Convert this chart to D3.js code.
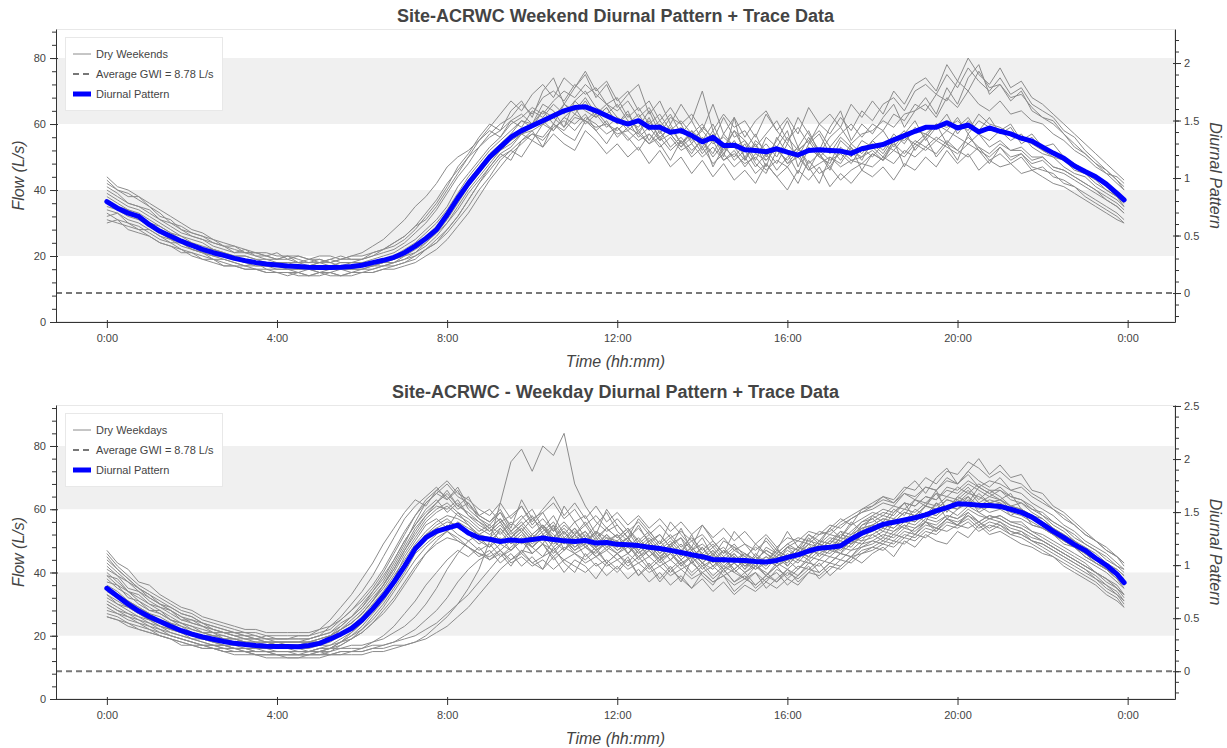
<!DOCTYPE html>
<html>
<head>
<meta charset="utf-8">
<script src="https://cdn.jsdelivr.net/npm/d3@7"></script>
<style>
  body { margin: 0; background: #fff; }
  text { font-family: "Liberation Sans", Arial, Helvetica, sans-serif; }
</style>
</head>
<body>
<svg id="chart" width="1227" height="748"></svg>
<script>
// ---------------- DATA ----------------
const sampleMinutes = d3.range(0, 1440, 15).concat([1435]); // 15-min samples, last at 23:55
const xTickValues = [0, 240, 480, 720, 960, 1200, 1440];
const xTickLabels = ["0:00", "4:00", "8:00", "12:00", "16:00", "20:00", "0:00"];
const averageGWI = 8.78;
const bandRanges = [[20, 40], [60, 80]];

const weekendTitle = "Site-ACRWC Weekend Diurnal Pattern + Trace Data";
const weekdayTitle = "Site-ACRWC - Weekday Diurnal Pattern + Trace Data";
const weekendLegend = ["Dry Weekends", "Average GWI = 8.78 L/s", "Diurnal Pattern"];
const weekdayLegend = ["Dry Weekdays", "Average GWI = 8.78 L/s", "Diurnal Pattern"];

const weekendPattern = [36.5,34.5,33,32,29.5,27.5,26,24.5,23.2,22,21,20.2,
19.3,18.6,18,17.6,17.3,17,16.8,16.6,16.5,16.5,16.6,16.8,
17.2,18,18.7,19.6,21,23,25.3,28,32.5,37.5,42,46,
50,53,56,58,59.5,61,62.5,64,65,65.2,64,62.5,
61,60,61,59,59,57.5,58,56.5,54.6,56,53.5,53.6,
52.2,52,51.6,52.5,51.5,50.6,52,52.2,52,51.8,51.1,52.5,
53.2,53.8,55.2,56.5,57.8,59,59,60.4,58.8,59.7,57.6,58.8,
57.8,57,55.7,54.8,53,51.2,49.6,47.3,45.6,44,41.8,39,37];

const weekdayPattern = [35,32.5,30,27.8,26,24.5,23,21.6,20.5,19.6,18.9,18.2,
17.6,17.2,16.9,16.7,16.6,16.6,16.5,16.9,17.6,19,20.5,22.3,
25,28.5,32.5,37,42,47.5,51,53,54,55,52.5,51,
50.5,49.8,50.3,50,50.4,50.9,50.4,50,49.8,50.1,49.3,49.5,
48.9,48.8,48.5,48,47.6,47,46.3,45.6,45,44.1,44,43.9,
43.8,43.5,43.3,43.8,44.8,45.6,46.8,47.7,48,48.4,50.6,52.4,
53.8,55.2,55.9,56.6,57.3,58.2,59.5,60.5,61.7,61.6,61.3,61.2,
60.9,60,59,57.5,55.3,53,51,48.8,47,44.5,42.3,39.5,36.8];

const weekendTraces = [
[42,40,39,37,35,33,30,29,27,26,24,23, 22,21,21,20,19,20,19,18,19,18,19,19, 19,20,21,22,24,27,30,34,39,44,48,53, 57,60,62,66,63,68,70,67,72,69,71,66, 68,62,65,60,63,58,61,57,60,55,62,56, 58,53,57,61,55,59,54,60,57,62,58,64, 61,66,68,64,70,72,69,75,71,77,73,70, 74,69,71,66,64,62,58,56,52,49,46,43,41],
[33,31,30,29,27,25,24,22,21,20,19,18, 17,17,16,16,15,15,15,14,15,15,14,15, 15,16,17,17,18,20,22,25,28,32,37,42, 46,50,52,55,57,56,60,58,62,61,59,60, 57,58,55,57,53,56,52,54,50,53,49,51, 48,50,46,49,47,51,46,48,50,47,49,48, 51,49,52,50,54,52,55,53,51,54,52,50, 53,50,51,48,49,46,45,43,41,39,37,35,33],
[38,36,34,33,31,29,27,26,24,23,22,21, 20,20,19,18,18,18,17,17,18,17,18,18, 19,21,22,24,26,29,33,37,42,46,50,53, 56,58,61,59,64,62,66,63,67,64,62,65, 60,63,58,61,56,59,54,57,53,58,51,55, 50,54,49,53,48,52,55,50,53,49,54,51, 55,52,57,54,59,56,60,58,62,57,61,59, 58,60,55,57,53,54,50,48,46,44,41,38,36],
[44,41,40,38,36,34,32,30,28,27,25,24, 23,22,21,21,20,20,20,19,20,20,19,20, 20,21,22,24,26,29,31,35,40,45,50,55, 59,63,67,64,69,72,68,74,71,76,70,73, 67,70,64,67,61,65,60,63,58,66,57,62, 56,61,64,58,62,57,65,60,63,59,66,62, 67,63,70,66,72,74,70,78,73,80,75,72, 77,71,73,68,66,63,60,57,54,51,48,45,43],
[31,30,29,28,26,24,23,22,20,19,18,17, 17,16,16,15,15,14,15,14,14,15,14,15, 15,15,16,16,17,18,20,22,25,29,33,38, 43,47,51,54,57,55,59,61,58,62,60,57, 59,55,58,54,56,52,55,50,53,48,51,47, 50,45,48,44,47,42,49,45,47,43,46,48, 47,50,48,52,50,53,51,55,52,50,53,49, 51,48,50,46,47,44,43,41,39,37,35,33,31],
[40,38,36,35,33,31,29,27,26,25,23,22, 21,21,20,19,19,19,18,18,18,19,18,18, 18,19,20,21,23,25,28,31,35,41,45,49, 53,56,60,62,65,63,67,70,68,72,69,66, 64,67,62,65,59,63,57,61,55,60,53,58, 52,57,50,55,61,53,58,51,56,59,54,57, 58,61,59,63,64,66,62,68,65,70,66,64, 67,63,64,61,60,57,55,52,50,47,45,42,40],
[34,33,31,30,28,26,25,23,22,21,20,19, 18,17,17,17,16,16,16,16,15,16,16,16, 16,17,18,19,20,22,24,27,30,35,40,44, 48,52,55,57,59,61,58,62,60,63,58,61, 56,59,57,54,58,53,56,52,55,50,54,49, 52,47,51,46,50,53,48,51,47,52,49,50, 52,49,54,51,55,53,56,54,52,56,53,51, 54,52,52,49,50,47,46,44,42,40,38,36,34],
[36,35,33,31,30,27,26,24,23,21,21,20, 19,18,18,17,17,17,16,17,16,17,17,16, 17,17,18,19,21,23,26,29,33,38,43,47, 51,54,57,61,59,64,60,66,63,67,62,65, 60,64,57,62,55,60,54,58,52,57,50,62, 49,54,47,56,51,45,53,50,48,55,52,50, 54,51,56,55,58,57,60,59,61,58,63,60, 59,57,56,54,52,51,49,47,45,43,40,38,36],
[39,37,35,34,32,30,28,26,25,24,22,21, 20,20,19,19,18,18,18,17,18,18,17,18, 18,18,19,20,22,24,27,30,34,39,44,48, 52,55,58,61,60,64,62,66,64,68,63,66, 62,60,63,58,61,57,59,55,58,54,56,53, 55,51,54,50,56,52,55,58,53,57,60,56, 60,58,63,61,66,64,69,67,73,70,76,71, 72,68,69,65,62,60,57,54,51,48,46,43,40],
[35,34,32,31,29,27,25,24,22,21,20,20, 19,18,17,17,17,16,16,16,16,16,16,16, 16,17,17,18,20,21,24,27,31,36,41,45, 49,52,54,57,58,60,62,59,63,61,64,60, 58,61,56,59,55,57,53,56,51,55,49,52, 47,51,49,53,48,50,46,52,49,51,48,53, 50,54,52,56,54,57,55,58,56,54,57,53, 55,52,53,50,50,47,46,44,42,40,37,35,33],
[41,39,36,35,34,31,30,28,26,25,24,23, 21,22,20,20,19,20,18,19,19,18,19,20, 21,23,25,28,31,35,38,42,47,50,52,55, 58,56,61,63,60,66,64,59,67,70,65,63, 66,61,59,64,57,62,60,54,59,56,52,58, 55,49,56,53,58,47,54,57,51,56,53,49, 55,58,53,57,61,55,59,63,57,61,58,62, 57,59,54,56,52,50,49,46,45,42,40,38,35],
[32,33,30,28,28,26,24,24,22,21,19,19, 18,17,18,16,16,16,15,16,15,15,16,15, 16,16,17,18,19,21,23,26,30,34,39,43, 47,51,49,55,58,53,60,57,55,61,58,54, 59,56,52,57,54,49,55,51,56,47,53,50, 54,48,45,52,49,53,47,42,50,48,53,46, 51,49,55,47,53,56,50,54,49,57,52,48, 53,49,51,47,46,45,42,41,38,36,34,32,30],
[43,40,38,38,35,32,31,28,27,26,25,23, 23,21,21,20,21,19,20,19,18,19,20,19, 19,20,22,23,25,28,32,36,41,47,51,56, 60,58,64,67,62,70,74,66,71,75,68,72, 65,69,72,63,67,60,66,61,70,58,63,59, 61,56,63,58,54,62,57,52,59,64,55,60, 57,62,66,59,64,68,63,71,66,74,78,69, 72,67,70,64,62,61,57,53,51,48,45,44,42],
[37,35,34,32,30,29,27,25,24,22,22,21, 19,19,18,18,17,17,17,16,16,17,16,17, 17,17,18,18,19,20,22,24,28,32,37,42, 47,51,53,57,55,60,58,62,65,60,63,59, 62,58,61,55,60,57,53,58,55,51,57,53, 49,55,52,48,54,50,56,51,46,53,50,55, 53,50,55,58,52,56,60,54,59,62,57,55, 58,55,57,53,51,50,47,45,44,41,39,37,35],
[30,31,28,27,26,24,23,21,21,19,19,17, 17,16,16,15,15,15,14,14,15,14,14,14, 15,15,16,17,18,19,22,24,27,31,35,40, 44,49,52,50,55,53,57,54,52,58,55,51, 54,50,53,48,52,47,50,45,49,44,48,43, 46,42,48,44,40,46,43,47,41,45,42,46, 44,47,43,48,46,50,47,52,48,51,46,49, 47,48,45,46,44,42,41,39,37,35,33,31,30]
];

const weekdayTraces = [
[38,35,33,30,28,27,25,23,22,21,20,19, 19,18,18,17,18,17,17,18,18,20,22,24, 27,31,36,42,48,54,58,61,60,63,58,55, 53,56,51,54,50,55,52,49,53,50,48,52, 49,51,47,50,46,49,45,48,44,47,43,46, 42,45,43,47,45,48,46,50,49,52,51,55, 56,58,57,60,59,62,61,64,63,66,62,64, 63,61,60,58,56,54,52,50,47,45,43,40,38],
[30,28,26,25,23,22,20,19,18,17,16,16, 15,15,14,14,14,14,14,15,15,16,17,19, 21,24,28,32,37,42,46,49,51,50,48,46, 45,47,44,46,43,45,47,44,46,43,45,42, 44,41,43,40,42,39,41,38,40,37,39,36, 38,36,39,37,40,38,41,40,43,42,45,46, 48,47,50,49,52,51,54,53,55,54,56,53, 55,52,53,50,49,47,45,43,41,39,36,34,31],
[44,41,38,35,33,31,29,27,26,24,23,22, 21,20,20,19,19,19,19,19,20,21,24,26, 29,33,37,43,49,56,62,65,68,64,62,58, 60,56,58,61,55,59,62,57,60,55,58,54, 57,53,56,52,55,51,53,50,52,48,51,47, 49,47,50,46,49,51,50,53,52,55,57,59, 60,62,61,65,63,67,66,70,68,72,69,67, 70,66,67,64,62,60,57,55,52,50,47,45,43],
[32,30,28,26,25,23,22,21,20,19,18,17, 17,16,16,16,15,15,15,15,15,15,16,16, 16,17,17,18,19,20,22,24,27,30,33,37, 41,45,47,50,48,52,49,51,48,50,47,49, 46,48,45,47,44,46,43,45,42,44,41,43, 40,42,39,43,41,44,43,46,45,48,47,50, 51,53,52,55,54,57,56,58,57,60,58,57, 58,56,56,53,52,50,48,46,44,42,40,37,35],
[34,32,30,28,26,24,23,22,21,20,19,18, 18,17,17,16,16,16,15,15,15,14,14,14, 14,15,15,16,17,18,20,23,26,30,35,41, 50,62,75,79,72,80,77,84,68,61,56,53, 55,51,54,50,52,48,51,47,49,46,48,44, 46,43,45,42,44,46,45,48,47,50,49,52, 53,55,54,57,56,59,58,61,60,62,61,59, 60,58,57,55,54,52,50,48,46,44,41,39,37],
[40,37,34,32,30,28,26,24,23,22,21,20, 19,19,18,18,18,18,18,19,20,23,26,30, 34,39,45,51,57,61,64,67,63,66,60,57, 54,57,52,55,51,54,50,53,49,52,48,51, 47,50,46,49,45,48,44,47,43,46,42,45, 41,44,42,46,44,47,45,49,48,51,50,54, 55,57,56,59,58,61,60,63,62,65,64,62, 63,61,60,58,56,53,51,49,46,44,42,39,37],
[28,27,25,24,22,21,20,19,18,17,17,16, 16,15,15,15,14,14,14,14,15,16,18,20, 23,27,31,36,42,47,51,54,56,55,53,50, 48,51,47,50,46,49,45,48,46,44,47,43, 46,42,45,41,44,40,43,39,42,38,41,37, 40,36,39,42,38,41,44,40,43,46,45,49, 50,52,51,54,53,56,55,58,57,59,56,58, 57,55,54,52,50,48,46,44,42,40,37,35,33],
[42,39,37,34,32,30,28,26,25,24,22,21, 20,20,19,19,18,18,18,18,19,20,22,25, 28,32,36,41,47,52,57,60,62,59,57,54, 52,55,51,54,50,53,56,51,54,50,53,49, 52,48,51,47,50,46,49,45,48,44,47,43, 46,44,47,45,48,50,49,52,53,56,58,60, 62,64,63,67,66,70,68,72,71,75,73,70, 72,69,68,65,63,60,58,55,52,50,47,45,42],
[36,34,31,29,27,25,24,22,21,20,19,19, 18,18,17,17,17,17,17,17,18,19,21,23, 26,30,34,39,44,49,53,56,58,57,55,52, 50,53,49,52,48,51,54,49,52,48,51,47, 50,46,49,45,48,44,47,43,46,42,45,41, 44,42,45,43,46,44,48,47,50,49,52,54, 55,57,56,59,58,61,60,63,62,64,61,63, 62,60,59,57,55,53,51,49,46,44,42,39,36],
[46,42,39,36,34,32,30,28,27,25,24,23, 22,21,21,20,20,20,20,20,21,22,25,28, 31,35,40,46,52,58,63,66,69,65,63,60, 58,62,57,61,56,60,64,58,62,57,61,56, 59,55,58,54,57,53,56,52,55,51,54,50, 53,49,52,48,51,50,53,52,55,54,57,59, 61,63,62,65,64,67,66,69,68,71,67,69, 68,66,65,62,60,58,55,53,50,48,46,43,41],
[31,29,27,26,24,23,21,20,19,18,17,17, 16,16,15,15,15,15,15,15,16,17,19,21, 24,28,32,37,43,48,52,54,53,51,48,46, 44,47,43,45,42,44,41,44,42,40,43,39, 42,38,41,37,40,36,39,35,38,34,37,33, 36,34,37,35,38,36,40,39,42,41,44,47, 48,50,49,52,51,54,53,56,55,57,54,56, 55,53,52,50,49,47,45,43,41,38,36,33,30],
[33,31,29,27,25,24,22,21,20,19,18,18, 17,17,16,16,16,16,16,15,16,16,16,17, 17,18,19,21,23,26,30,35,41,46,50,52, 51,54,50,53,49,52,48,51,47,50,52,48, 50,46,49,45,48,44,47,43,46,42,45,41, 44,41,43,45,42,46,44,47,46,49,48,52, 53,55,54,57,56,59,58,61,60,63,60,62, 61,59,58,56,54,52,50,48,45,43,41,38,36],
[39,36,34,31,29,27,25,24,22,21,20,20, 19,18,18,18,17,17,17,18,18,19,22,24, 27,31,35,40,46,51,56,59,61,58,56,53, 55,52,56,53,57,54,51,55,52,56,51,54, 51,54,50,53,49,52,48,51,47,50,46,49, 45,48,46,44,47,45,49,48,51,50,53,56, 57,59,58,62,61,64,63,66,65,68,66,64, 66,63,62,60,58,55,53,50,48,46,43,41,39],
[27,26,24,23,22,20,19,18,17,17,16,15, 15,15,14,14,14,13,13,14,14,15,17,19, 22,25,29,34,39,44,48,51,53,50,48,45, 47,43,46,42,45,41,48,43,40,46,42,44, 41,45,39,43,38,42,37,44,39,36,41,37, 39,35,38,40,36,39,42,38,41,44,43,46, 47,49,48,51,50,53,52,55,54,56,53,55, 54,52,51,49,47,45,43,41,39,37,34,32,29],
[29,27,26,24,23,21,20,19,18,17,17,16, 16,15,15,15,14,14,14,14,14,14,15,15, 15,16,16,17,17,18,19,21,23,26,29,33, 37,41,44,47,46,49,47,50,46,48,45,47, 44,46,43,45,42,44,41,43,40,42,39,41, 38,40,37,41,39,42,41,44,43,46,45,48, 49,51,50,53,52,55,54,57,56,58,55,57, 56,54,53,51,50,48,46,44,42,40,38,35,33],
[45,41,38,35,32,30,28,26,24,23,22,21, 20,19,19,18,18,18,18,18,19,20,23,26, 29,34,38,44,50,55,59,62,65,61,59,56, 54,57,53,56,52,55,51,54,50,53,49,52, 48,51,47,50,46,49,45,48,44,47,43,46, 42,45,43,47,45,48,47,50,49,53,52,56, 58,60,59,62,61,64,63,67,66,69,67,65, 67,64,63,61,58,56,54,51,49,47,44,42,40],
[41,39,35,34,31,29,28,25,25,23,22,21, 21,20,19,20,19,19,20,20,22,25,29,33, 38,43,49,54,59,63,61,66,64,60,62,57, 55,59,53,57,60,54,58,52,56,51,55,59, 53,50,55,49,52,48,54,47,51,45,50,48, 44,49,46,43,48,45,51,47,50,53,49,55, 57,54,59,62,57,61,65,60,64,67,63,66, 64,61,62,59,57,54,52,49,48,45,42,41,39],
[26,25,24,22,21,20,19,17,17,16,16,15, 14,14,14,13,13,13,13,13,13,14,14,15, 16,18,20,23,27,31,36,40,44,47,45,48, 44,46,42,47,43,41,45,40,44,42,38,43, 40,44,39,42,37,41,38,35,40,37,39,34, 37,40,35,38,41,37,40,43,39,42,45,43, 46,48,45,50,48,52,50,49,53,51,55,52, 53,51,49,48,46,45,42,40,38,36,33,31,29],
[37,36,32,31,28,28,25,24,23,21,21,19, 19,18,17,18,17,16,17,17,17,18,20,22, 25,29,33,38,45,50,55,57,54,59,55,51, 48,54,50,46,52,49,55,47,51,53,48,50, 52,46,50,47,44,49,51,44,48,43,47,45, 41,46,43,48,42,46,49,45,48,46,51,50, 54,51,56,54,58,56,62,57,60,64,59,61, 62,58,60,55,54,52,49,48,45,43,41,38,35],
[43,40,37,35,33,30,29,27,26,24,23,22, 21,21,20,19,19,19,19,19,20,21,23,26, 30,34,39,44,50,55,60,63,59,62,58,56, 53,56,51,55,58,52,55,50,54,49,53,51, 50,53,48,51,47,50,46,52,45,48,44,47, 45,43,48,46,49,47,52,50,54,57,55,60, 61,64,62,66,69,65,70,73,68,72,76,71, 74,70,71,66,65,61,59,56,53,50,48,45,43],
[33,30,29,27,25,23,22,21,19,19,18,17, 16,16,16,15,15,15,15,15,16,16,18,20, 22,26,30,35,40,46,49,52,55,52,50,47, 49,45,48,51,46,49,44,47,50,45,48,43, 46,43,47,42,45,41,44,40,43,39,42,40, 38,42,40,37,41,39,43,42,45,44,47,48, 50,49,52,51,54,56,53,57,55,58,56,54, 56,53,52,50,48,46,44,42,40,38,35,33,31],
[30,28,27,25,24,22,21,20,19,18,17,17, 16,16,15,15,15,15,14,14,14,14,15,15, 15,16,17,18,20,22,25,28,32,37,41,44, 46,49,47,51,48,45,50,47,52,48,46,50, 47,49,45,48,44,47,42,46,43,41,45,40, 43,41,44,42,45,43,47,46,48,47,50,49, 52,50,53,55,52,56,54,57,55,59,56,58, 57,55,54,52,50,48,46,44,42,40,38,36,33],
[39,38,34,33,30,29,27,25,24,23,21,21, 20,19,19,18,18,18,18,18,19,20,22,24, 27,31,36,41,47,53,58,62,66,61,64,58, 56,60,54,63,57,59,53,61,56,58,52,60, 55,51,57,53,49,56,52,48,55,50,46,53, 49,45,51,47,53,48,52,49,54,51,56,53, 58,56,60,58,63,61,66,59,64,62,67,65, 63,65,60,58,57,54,51,50,47,44,42,40,37],
[35,33,31,29,27,26,24,23,21,20,20,19, 18,18,17,17,17,16,16,16,17,17,18,19, 21,24,27,31,36,41,46,50,53,56,54,52, 54,50,53,49,52,55,50,53,48,51,47,50, 48,51,46,49,45,48,44,47,43,46,41,45, 42,44,41,45,43,47,45,49,47,51,50,53, 55,53,57,56,60,58,62,60,63,61,65,62, 63,60,59,57,55,53,50,48,46,43,41,38,36],
[26,25,23,22,21,20,19,18,17,16,16,15, 15,15,14,14,14,14,14,14,15,16,18,21, 24,28,33,38,43,48,52,55,57,54,52,49, 51,47,50,53,48,51,46,50,47,49,45,48, 46,49,44,47,43,46,42,45,41,44,40,43, 40,43,39,42,44,41,45,44,47,46,49,51, 52,54,53,56,55,58,57,60,58,61,59,57, 58,56,55,53,51,49,47,45,43,40,38,35,32],
[47,43,41,37,36,33,31,29,28,26,25,24, 23,22,22,21,21,21,21,21,22,23,25,28, 32,36,41,47,53,58,62,65,63,67,61,58, 56,59,55,58,54,57,53,56,52,55,50,54, 51,54,49,52,48,51,47,50,46,49,45,48, 46,44,47,45,48,47,50,49,52,51,55,57, 59,58,61,60,63,62,65,64,67,65,68,66, 66,64,63,60,59,56,54,52,49,47,45,42,41]
];

// ---------------- DRAWING ----------------
const svg = d3.select("#chart");
const plotLeft = 56, plotRight = 1175;
const textColor = "#444";
const traceColor = "#8c8c8c";
const fontFamily = '"Liberation Sans", Arial, Helvetica, sans-serif';

function drawChart(cfg) {
  const g = svg.append("g");
  const x = d3.scaleLinear().domain([-71.75, 1506.8]).range([plotLeft, plotRight]);
  const y = d3.scaleLinear().domain([0, cfg.yMax]).range([cfg.bottom, cfg.top]);
  const gwiY = y(averageGWI);
  const yr = d3.scaleLinear()
    .domain([-(cfg.bottom - gwiY) / cfg.rightPx, (gwiY - cfg.top) / cfg.rightPx])
    .range([cfg.bottom, cfg.top]);

  bandRanges.forEach(([a, b]) => {
    g.append("rect").attr("x", plotLeft).attr("width", plotRight - plotLeft)
      .attr("y", y(b)).attr("height", y(a) - y(b)).attr("fill", "#f0f0f0");
  });
  g.append("rect").attr("x", plotLeft + 0.5).attr("y", cfg.top + 0.5)
    .attr("width", plotRight - plotLeft - 1).attr("height", cfg.bottom - cfg.top - 1)
    .attr("fill", "none").attr("stroke", "#e8e8e8");

  const line = d3.line().x((d, i) => x(sampleMinutes[i])).y(d => y(d));
  cfg.traces.forEach(t => {
    g.append("path").attr("d", line(t)).attr("fill", "none")
      .attr("stroke", traceColor).attr("stroke-width", 1).attr("stroke-linejoin", "round");
  });
  g.append("line").attr("x1", plotLeft).attr("x2", plotRight).attr("y1", gwiY).attr("y2", gwiY)
    .attr("stroke", "#777").attr("stroke-width", 2).attr("stroke-dasharray", "6,4");
  g.append("path").attr("d", line(cfg.pattern)).attr("fill", "none")
    .attr("stroke", "#0000ff").attr("stroke-width", 5)
    .attr("stroke-linejoin", "round").attr("stroke-linecap", "round");

  const styleAxis = (sel) => {
    sel.selectAll("path.domain").attr("stroke", "#333");
    sel.selectAll(".tick line").attr("stroke", "#333");
    sel.selectAll("text").attr("fill", textColor).attr("font-size", 11).attr("font-family", fontFamily);
  };
  const leftMinor = g.append("g").attr("transform", `translate(${plotLeft},0)`)
    .call(d3.axisLeft(y).tickValues(d3.range(0, cfg.yMax, 4)).tickSize(4).tickFormat(""));
  leftMinor.select(".domain").remove();
  leftMinor.selectAll(".tick line").attr("stroke", "#333");
  const leftAxis = g.append("g").attr("transform", `translate(${plotLeft},0)`)
    .call(d3.axisLeft(y).tickValues([0, 20, 40, 60, 80]).tickSize(6).tickSizeOuter(0).tickPadding(4));
  leftAxis.selectAll(".tick line").attr("x1", 2);
  styleAxis(leftAxis);

  const rMinorVals = d3.range(-2, Math.floor(yr.domain()[1] * 10 + 1e-6) + 1).map(v => v / 10);
  const rightMinor = g.append("g").attr("transform", `translate(${plotRight},0)`)
    .call(d3.axisRight(yr).tickValues(rMinorVals).tickSize(4).tickFormat(""));
  rightMinor.select(".domain").remove();
  rightMinor.selectAll(".tick line").attr("stroke", "#333");
  const rightAxis = g.append("g").attr("transform", `translate(${plotRight},0)`)
    .call(d3.axisRight(yr).tickValues(cfg.rightTicks).tickSize(6).tickSizeOuter(0).tickPadding(3)
      .tickFormat(d => String(d)));
  rightAxis.selectAll(".tick line").attr("x1", -2);
  styleAxis(rightAxis);

  const bottomAxis = g.append("g").attr("transform", `translate(0,${cfg.bottom})`)
    .call(d3.axisBottom(x).tickValues(xTickValues).tickSize(6).tickSizeOuter(0).tickPadding(6)
      .tickFormat((d, i) => xTickLabels[i]));
  bottomAxis.selectAll(".tick line").attr("y1", -2);
  styleAxis(bottomAxis);

  g.append("text").attr("x", (plotLeft + plotRight) / 2).attr("y", cfg.top - 7)
    .attr("text-anchor", "middle").attr("font-size", 18).attr("font-weight", "bold")
    .attr("fill", textColor).text(cfg.title);
  const midY = (cfg.top + cfg.bottom) / 2;
  g.append("text").attr("transform", `translate(23.5,${midY}) rotate(-90)`)
    .attr("text-anchor", "middle").attr("font-size", 16).attr("font-style", "italic")
    .attr("fill", textColor).text("Flow (L/s)");
  g.append("text").attr("transform", `translate(1210,${midY}) rotate(90)`)
    .attr("text-anchor", "middle").attr("font-size", 16).attr("font-style", "italic")
    .attr("fill", textColor).text("Diurnal Pattern");
  g.append("text").attr("x", (plotLeft + plotRight) / 2).attr("y", cfg.bottom + 44.5)
    .attr("text-anchor", "middle").attr("font-size", 16).attr("font-style", "italic")
    .attr("fill", textColor).text("Time (hh:mm)");

  const lx = 65.5, ly = cfg.top + 8.5;
  const lg = g.append("g");
  lg.append("rect").attr("x", lx).attr("y", ly).attr("width", 157).attr("height", 73)
    .attr("fill", "#fff").attr("fill-opacity", 0.95).attr("stroke", "#e8e8e8");
  const items = [
    { stroke: traceColor, w: 1, dash: null },
    { stroke: "#777", w: 2, dash: "6,4" },
    { stroke: "#0000ff", w: 5, dash: null }
  ];
  items.forEach((it, k) => {
    const iy = ly + 16.5 + k * 20;
    const ln = lg.append("line").attr("x1", 73).attr("x2", 91).attr("y1", iy).attr("y2", iy)
      .attr("stroke", it.stroke).attr("stroke-width", it.w);
    if (it.dash) ln.attr("stroke-dasharray", it.dash);
    lg.append("text").attr("x", 96).attr("y", iy).attr("dy", "0.35em")
      .attr("font-size", 11).attr("fill", textColor).text(cfg.legend[k]);
  });
}

drawChart({
  top: 29, bottom: 322, yMax: 88.8, rightPx: 115,
  rightTicks: [0, 0.5, 1, 1.5, 2],
  title: weekendTitle, legend: weekendLegend,
  traces: weekendTraces, pattern: weekendPattern
});
drawChart({
  top: 405, bottom: 699, yMax: 92.96, rightPx: 106.1,
  rightTicks: [0, 0.5, 1, 1.5, 2, 2.5],
  title: weekdayTitle, legend: weekdayLegend,
  traces: weekdayTraces, pattern: weekdayPattern
});
</script>
</body>
</html>
